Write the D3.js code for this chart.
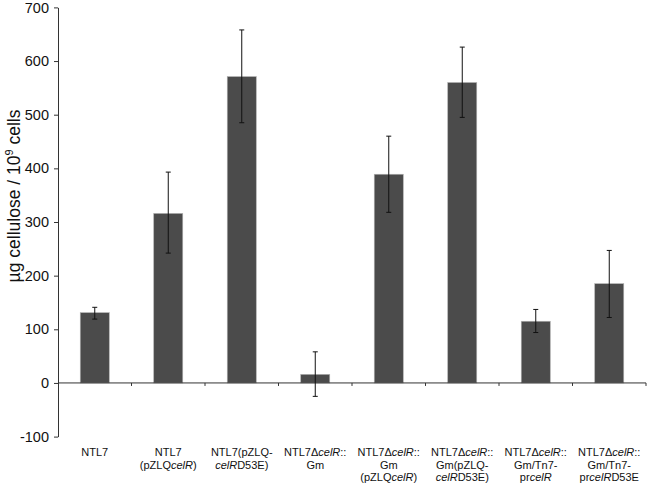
<!DOCTYPE html>
<html><head><meta charset="utf-8">
<script src="https://cdn.jsdelivr.net/npm/d3@7"></script>
<style>body{margin:0;background:#fff}svg{display:block}</style>
</head><body>
<svg id="c" width="650" height="486"></svg>
<script>
const categories = [
  ["NTL7"],
  ["NTL7", "(pZLQ<i>celR</i>)"],
  ["NTL7(pZLQ-", "<i>celR</i>D53E)"],
  ["NTL7Δ<i>celR</i>::", "Gm"],
  ["NTL7Δ<i>celR</i>::", "Gm", "(pZLQ<i>celR</i>)"],
  ["NTL7Δ<i>celR</i>::", "Gm(pZLQ-", "<i>celR</i>D53E)"],
  ["NTL7Δ<i>celR</i>::", "Gm/Tn7-", "pr<i>celR</i>"],
  ["NTL7Δ<i>celR</i>::", "Gm/Tn7-", "pr<i>celR</i>D53E"]
];
const values   = [131, 316, 571, 16, 389, 560, 115, 185];
const errLow   = [119, 242, 485, -25, 318, 495, 94, 122];
const errHigh  = [141, 393, 658, 58, 460, 626, 137, 247];
const yTicks   = [-100, 0, 100, 200, 300, 400, 500, 600, 700];

const svg = d3.select("#c");
const font = "Liberation Sans, Arial, sans-serif";
const idx = d3.range(categories.length);

const x = d3.scaleBand().domain(idx).range([58, 646]).paddingInner(0.605).paddingOuter(0.3025);
const y = d3.scaleLinear().domain([-100, 700]).range([436.6, 7.4]);
const axisColor = "#333";

// bars
svg.append("g").selectAll("rect").data(idx).join("rect")
  .attr("x", i => x(i))
  .attr("width", x.bandwidth())
  .attr("y", i => Math.min(y(values[i]), y(0)))
  .attr("height", i => Math.abs(y(values[i]) - y(0)))
  .attr("fill", "#4b4b4b")
  .attr("stroke", "#b0b0b0")
  .attr("stroke-width", 0.6);

// y axis
const ya = svg.append("g").attr("transform", "translate(58,0)")
  .call(d3.axisLeft(y).tickValues(yTicks).tickFormat(d => String(d)).tickSize(4).tickSizeOuter(0).tickPadding(5));
ya.select(".domain").attr("stroke", axisColor);
ya.selectAll(".tick line").attr("stroke", axisColor);
ya.selectAll(".tick text").attr("font-family", font).attr("font-size", 14.5).attr("fill", "#111");

// x axis at zero
const xg = svg.append("g");
xg.append("line").attr("x1", 58).attr("x2", 646).attr("y1", y(0)).attr("y2", y(0))
  .attr("stroke", axisColor);
const step = x.step();
xg.selectAll("line.t").data(d3.range(1, categories.length + 1)).join("line")
  .attr("class", "t")
  .attr("x1", k => 58 + k * step).attr("x2", k => 58 + k * step)
  .attr("y1", y(0)).attr("y2", y(0) + 3)
  .attr("stroke", axisColor);

// error bars
const eb = svg.append("g").attr("stroke", "#111").attr("stroke-width", 1);
idx.forEach(i => {
  const cx = x(i) + x.bandwidth() / 2;
  eb.append("line").attr("x1", cx).attr("x2", cx).attr("y1", y(errLow[i])).attr("y2", y(errHigh[i]));
  [errLow[i], errHigh[i]].forEach(v => {
    eb.append("line").attr("x1", cx - 2.5).attr("x2", cx + 2.5).attr("y1", y(v)).attr("y2", y(v));
  });
});

// category labels
function addRich(textEl, s) {
  const parts = s.split(/(<i>.*?<\/i>)/).filter(p => p.length);
  parts.forEach(p => {
    const m = p.match(/^<i>(.*)<\/i>$/);
    const ts = textEl.append("tspan").text(m ? m[1] : p);
    if (m) ts.attr("font-style", "italic");
  });
}
idx.forEach(i => {
  const cx = x(i) + x.bandwidth() / 2;
  categories[i].forEach((line, j) => {
    const t = svg.append("text").attr("x", cx).attr("y", 456 + j * 12.7)
      .attr("text-anchor", "middle").attr("font-family", font).attr("font-size", 11).attr("fill", "#111");
    addRich(t, line);
  });
});

// y title
const yt = svg.append("text").attr("transform", "translate(20,196) rotate(-90)")
  .attr("text-anchor", "middle").attr("font-family", font).attr("font-size", 17.5).attr("fill", "#111");
yt.append("tspan").text("µg cellulose / 10");
yt.append("tspan").text("9").attr("font-size", 11).attr("dy", -7);
yt.append("tspan").text(" cells").attr("dy", 7);
</script>
</body></html>
